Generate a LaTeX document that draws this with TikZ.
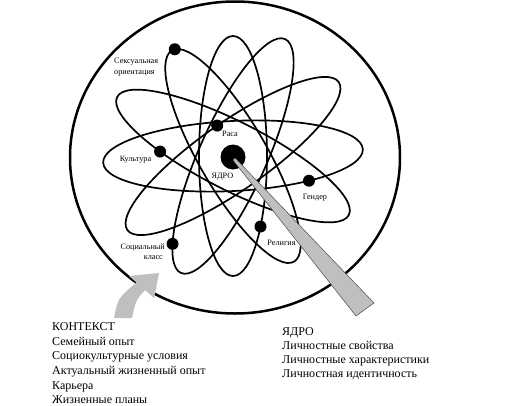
\documentclass[tikz,border=0pt]{standalone}
\usepackage{fontspec}
\setmainfont{Liberation Serif}
\begin{document}
\begin{tikzpicture}[x=1pt,y=-1pt,
  orbit/.style={line width=1.7pt},
  electron/.style={circle, fill=black, inner sep=0pt, minimum size=12pt},
  lab/.style={font=\fontsize{8.2}{9.5}\selectfont, inner sep=0pt},
  txt/.style={font=\fontsize{12}{14}\selectfont, inner sep=0pt, anchor=base west},
  pointer/.style={fill=black!25, draw=black!70, line width=0.5pt}]
\useasboundingbox (0,0) rectangle (512,405);
\fill[white] (0,0) rectangle (512,405);
% outer circle
\draw[line width=2.5pt] (235,157.5) ellipse [x radius=165pt, y radius=156pt];
% orbits and electrons
\begin{scope}[shift={(233,156)}]
  \draw[orbit, rotate=3] (0,0) ellipse [x radius=130pt, y radius=35pt];
  \path[rotate=3] (-55:130pt and 35pt) node[electron] (gender) {};
  \draw[orbit, rotate=90] (0,0) ellipse [x radius=120pt, y radius=34pt];
  \path[rotate=90] (-126:120pt and 34pt) node[electron] (relig) {};
  \draw[orbit, rotate=-27] (0,0) ellipse [x radius=130pt, y radius=34pt];
  \path[rotate=-27] (-121:130pt and 34pt) node[electron] (cult) {};
  \draw[orbit, rotate=-60] (0,0) ellipse [x radius=122pt, y radius=34pt];
  \path[rotate=-60] (175:122pt and 34pt) node[electron] (sex) {};
  \draw[orbit, rotate=66] (0,0) ellipse [x radius=128pt, y radius=34pt];
  \path[rotate=66] (145:128pt and 34pt) node[electron] (soc) {};
  \draw[orbit, rotate=35] (0,0) ellipse [x radius=129pt, y radius=34pt];
  \path[rotate=35] (88:129pt and 34pt) node[electron] (race) {};
\end{scope}
% nucleus
\node[circle, fill=black, inner sep=0pt, minimum size=25pt] (core) at (233,157) {};
% pointer wedge
\coordinate (wa) at (235.1,158);
\coordinate (wb) at (232.9,160);
\coordinate (wc) at (374,303);
\coordinate (wd) at (356,316);
\filldraw[pointer] (wa) -- (wc) -- (wd) -- (wb) -- cycle;
% curved grey arrow
\fill[black!25] (114,318) .. controls (118,298) .. (136.5,282.6) -- (129,276) -- (159,273) -- (154,298) -- (145,290) .. controls (136,300) .. (132,318) -- cycle;
% labels
\node[lab, anchor=base west] (l1) at (114,63.5) {Сексуальная};
\node[lab, anchor=base west] (l2) at (114,74.5) {ориентация};
\node[lab, anchor=base] (l3) at (230,136.5) {Раса};
\node[lab, anchor=base] (l4) at (135.5,161.5) {Культура};
\node[lab, anchor=base] (l5) at (222.5,178.7) {ЯДРО};
\node[lab, anchor=base] (l6) at (315,199.5) {Гендер};
\node[lab, anchor=base] (l7) at (281.5,245.5) {Религия};
\node[lab, anchor=base east] (l8) at (165,249.5) {Социальный};
\node[lab, anchor=base east] (l9) at (163,259.5) {класс};
% context text
\node[txt] (c1) at (52,330.7) {КОНТЕКСТ};
\node[txt] (c2) at (52,345.3) {Семейный опыт};
\node[txt] (c3) at (52,359.9) {Социокультурные условия};
\node[txt] (c4) at (52,374.5) {Актуальный жизненный опыт};
\node[txt] (c5) at (52,389.1) {Карьера};
\node[txt] (c6) at (52,403.7) {Жизненные планы};
% core text
\node[txt] (k1) at (282,335.7) {ЯДРО};
\node[txt] (k2) at (282,349.6) {Личностные свойства};
\node[txt] (k3) at (282,363.5) {Личностные характеристики};
\node[txt] (k4) at (282,377.4) {Личностная идентичность};
\end{tikzpicture}
\end{document}
